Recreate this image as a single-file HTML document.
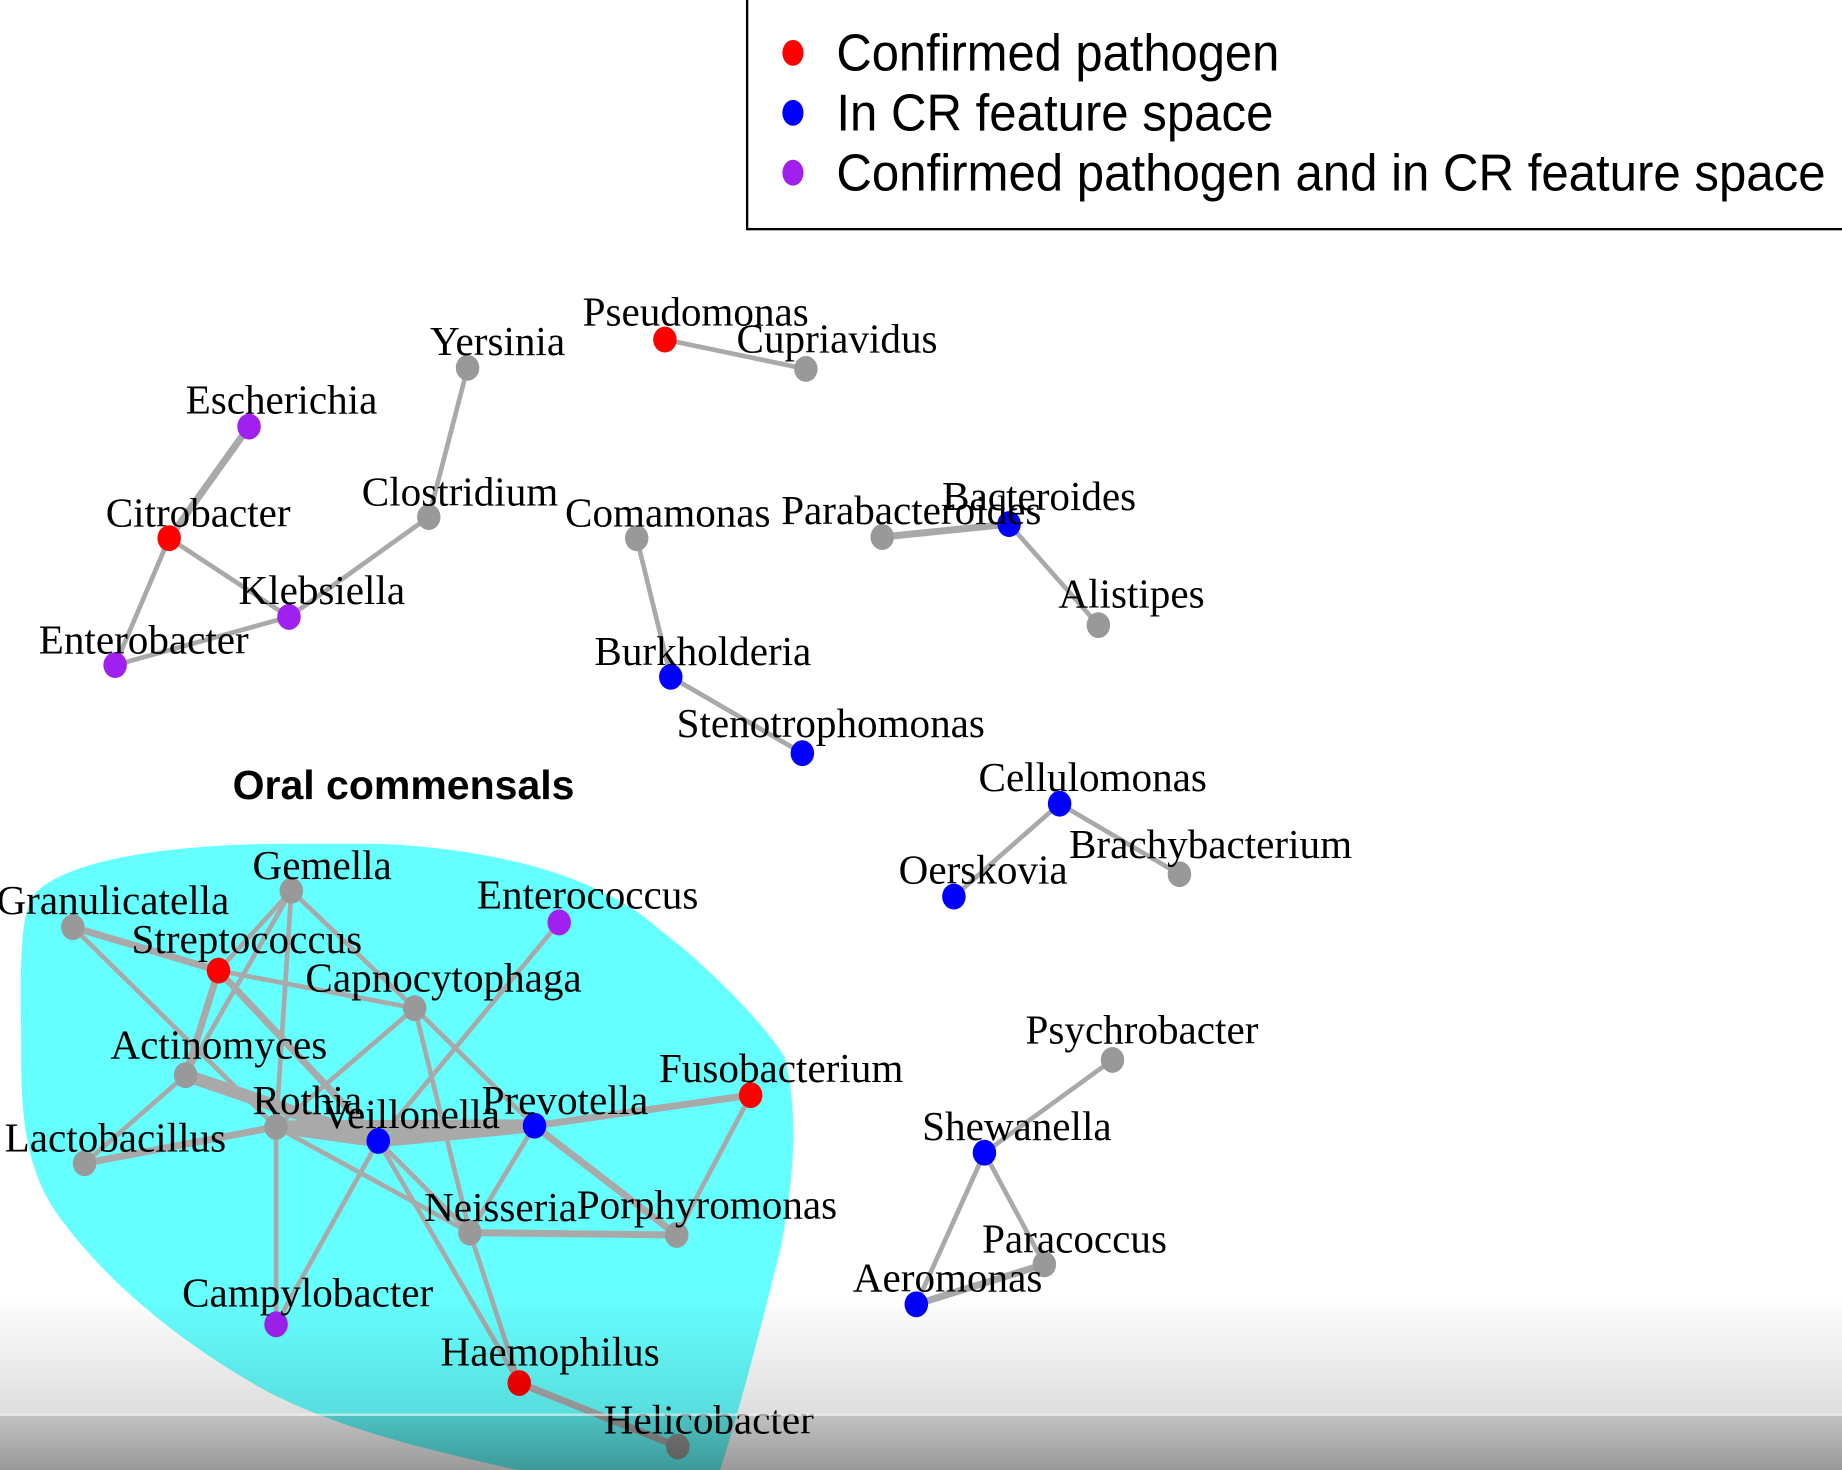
<!DOCTYPE html>
<html><head><meta charset="utf-8"><style>
html,body{margin:0;padding:0;background:#fff;}
svg{display:block;}
.l{font-family:"Liberation Serif",serif;font-size:35px;fill:#000;}
.g{font-family:"Liberation Sans",sans-serif;font-size:44px;fill:#000;}
</style></head><body>
<svg width="1842" height="1470" viewBox="0 0 1568 1251" preserveAspectRatio="none" xmlns="http://www.w3.org/2000/svg">
<defs>
<linearGradient id="sh" x1="0" y1="0" x2="0" y2="1">
<stop offset="0" stop-color="#000" stop-opacity="0"/>
<stop offset="0.68" stop-color="#000" stop-opacity="0.13"/>
<stop offset="0.69" stop-color="#000" stop-opacity="0.24"/>
<stop offset="1" stop-color="#000" stop-opacity="0.4"/>
</linearGradient>
</defs>
<rect width="1568" height="1251" fill="#fff"/>
<rect x="636" y="-5" width="940" height="200" fill="#fff" stroke="#000" stroke-width="2"/>
<ellipse cx="675" cy="45" rx="9" ry="11" fill="#f00"/>
<ellipse cx="675" cy="96" rx="9" ry="11" fill="#00f"/>
<ellipse cx="675" cy="147" rx="9" ry="11" fill="#a020f0"/>
<text class="g" x="712" y="60" textLength="377" lengthAdjust="spacingAndGlyphs">Confirmed pathogen</text>
<text class="g" x="712" y="111" textLength="372" lengthAdjust="spacingAndGlyphs">In CR feature space</text>
<text class="g" x="712" y="162" textLength="842" lengthAdjust="spacingAndGlyphs">Confirmed pathogen and in CR feature space</text>
<text x="198" y="680" font-family="Liberation Sans,sans-serif" font-weight="bold" font-size="35" textLength="291" lengthAdjust="spacingAndGlyphs">Oral commensals</text>
<path d="M250,718 C150,718 60,730 30,760 C15,780 18,830 18,900 C18,960 25,1000 50,1035 C90,1090 150,1140 220,1180 C300,1225 420,1245 480,1260 L610,1260 C630,1200 650,1120 665,1060 C676,1000 680,950 668,900 C650,870 600,820 560,790 C510,745 420,722 320,718 Z" fill="#66ffff"/>
<g stroke="#a9a9a9" stroke-linecap="round" fill="none">
<g stroke-width="4">
<line x1="566" y1="289" x2="686" y2="314"/>
<line x1="398" y1="313" x2="365" y2="440"/>
<line x1="365" y1="440" x2="246" y2="525"/>
<line x1="144" y1="458" x2="246" y2="525"/>
<line x1="144" y1="458" x2="98" y2="566"/>
<line x1="98" y1="566" x2="246" y2="525"/>
<line x1="542" y1="458" x2="571" y2="576"/>
<line x1="571" y1="576" x2="683" y2="641"/>
<line x1="859" y1="446" x2="935" y2="532"/>
<line x1="902" y1="684" x2="812" y2="763"/>
<line x1="902" y1="684" x2="1004" y2="744"/>
<line x1="947" y1="902" x2="838" y2="981"/>
<line x1="838" y1="981" x2="780" y2="1110"/>
<line x1="838" y1="981" x2="889" y2="1076"/>
<line x1="62" y1="789" x2="235" y2="959"/>
<line x1="248" y1="758" x2="186" y2="826"/>
<line x1="248" y1="758" x2="235" y2="959"/>
<line x1="248" y1="758" x2="158" y2="915"/>
<line x1="248" y1="758" x2="353" y2="858"/>
<line x1="186" y1="826" x2="353" y2="858"/>
<line x1="353" y1="858" x2="235" y2="959"/>
<line x1="353" y1="858" x2="400" y2="1049"/>
<line x1="353" y1="858" x2="455" y2="958"/>
<line x1="476" y1="785" x2="322" y2="971"/>
<line x1="158" y1="915" x2="72" y2="990"/>
<line x1="235" y1="959" x2="400" y2="1049"/>
<line x1="235" y1="959" x2="235" y2="1127"/>
<line x1="322" y1="971" x2="235" y2="1127"/>
<line x1="322" y1="971" x2="400" y2="1049"/>
<line x1="322" y1="971" x2="442" y2="1177"/>
<line x1="455" y1="958" x2="400" y2="1049"/>
<line x1="400" y1="1049" x2="442" y2="1177"/>
<line x1="639" y1="932" x2="576" y2="1051"/>
</g>
<g stroke-width="6">
<line x1="212" y1="363" x2="144" y2="458"/>
<line x1="751" y1="457" x2="859" y2="446"/>
<line x1="780" y1="1110" x2="889" y2="1076"/>
<line x1="62" y1="789" x2="186" y2="826"/>
<line x1="186" y1="826" x2="158" y2="915"/>
<line x1="186" y1="826" x2="322" y2="971"/>
<line x1="72" y1="990" x2="235" y2="959"/>
<line x1="455" y1="958" x2="639" y2="932"/>
<line x1="455" y1="958" x2="576" y2="1051"/>
<line x1="400" y1="1049" x2="576" y2="1051"/>
<line x1="442" y1="1177" x2="577" y2="1231"/>
</g>
<g stroke-width="11">
<line x1="158" y1="915" x2="322" y2="971"/>
<line x1="235" y1="959" x2="322" y2="971"/>
<line x1="235" y1="959" x2="455" y2="958"/>
<line x1="322" y1="971" x2="455" y2="958"/>
</g>
</g>
<g>
<g fill="#999">
<ellipse cx="686" cy="314" rx="10" ry="11"/><ellipse cx="398" cy="313" rx="10" ry="11"/>
<ellipse cx="365" cy="440" rx="10" ry="11"/><ellipse cx="542" cy="458" rx="10" ry="11"/>
<ellipse cx="751" cy="457" rx="10" ry="11"/><ellipse cx="935" cy="532" rx="10" ry="11"/>
<ellipse cx="1004" cy="744" rx="10" ry="11"/><ellipse cx="947" cy="902" rx="10" ry="11"/>
<ellipse cx="889" cy="1076" rx="10" ry="11"/><ellipse cx="248" cy="758" rx="10" ry="11"/>
<ellipse cx="62" cy="789" rx="10" ry="11"/><ellipse cx="353" cy="858" rx="10" ry="11"/>
<ellipse cx="158" cy="915" rx="10" ry="11"/><ellipse cx="235" cy="959" rx="10" ry="11"/>
<ellipse cx="72" cy="990" rx="10" ry="11"/><ellipse cx="400" cy="1049" rx="10" ry="11"/>
<ellipse cx="576" cy="1051" rx="10" ry="11"/><ellipse cx="577" cy="1231" rx="10" ry="11"/>
</g>
<g fill="#f00">
<ellipse cx="566" cy="289" rx="10" ry="11"/><ellipse cx="144" cy="458" rx="10" ry="11"/>
<ellipse cx="186" cy="826" rx="10" ry="11"/><ellipse cx="639" cy="932" rx="10" ry="11"/>
<ellipse cx="442" cy="1177" rx="10" ry="11"/>
</g>
<g fill="#00f">
<ellipse cx="859" cy="446" rx="10" ry="11"/><ellipse cx="571" cy="576" rx="10" ry="11"/>
<ellipse cx="683" cy="641" rx="10" ry="11"/><ellipse cx="902" cy="684" rx="10" ry="11"/>
<ellipse cx="812" cy="763" rx="10" ry="11"/><ellipse cx="838" cy="981" rx="10" ry="11"/>
<ellipse cx="780" cy="1110" rx="10" ry="11"/><ellipse cx="322" cy="971" rx="10" ry="11"/>
<ellipse cx="455" cy="958" rx="10" ry="11"/>
</g>
<g fill="#a020f0">
<ellipse cx="212" cy="363" rx="10" ry="11"/><ellipse cx="246" cy="525" rx="10" ry="11"/>
<ellipse cx="98" cy="566" rx="10" ry="11"/><ellipse cx="476" cy="785" rx="10" ry="11"/>
<ellipse cx="235" cy="1127" rx="10" ry="11"/>
</g>
</g>
<g>
<text class="l" x="496" y="277">Pseudomonas</text>
<text class="l" x="627" y="300">Cupriavidus</text>
<text class="l" x="366" y="302">Yersinia</text>
<text class="l" x="158" y="352">Escherichia</text>
<text class="l" x="308" y="430">Clostridium</text>
<text class="l" x="90" y="448">Citrobacter</text>
<text class="l" x="203" y="514">Klebsiella</text>
<text class="l" x="33" y="556">Enterobacter</text>
<text class="l" x="481" y="448">Comamonas</text>
<text class="l" x="665" y="446">Parabacteroides</text>
<text class="l" x="802" y="434">Bacteroides</text>
<text class="l" x="901" y="517">Alistipes</text>
<text class="l" x="506" y="566">Burkholderia</text>
<text class="l" x="576" y="627">Stenotrophomonas</text>
<text class="l" x="833" y="673">Cellulomonas</text>
<text class="l" x="910" y="730">Brachybacterium</text>
<text class="l" x="765" y="752">Oerskovia</text>
<text class="l" x="873" y="888">Psychrobacter</text>
<text class="l" x="785" y="970">Shewanella</text>
<text class="l" x="836" y="1066">Paracoccus</text>
<text class="l" x="726" y="1099">Aeromonas</text>
<text class="l" x="215" y="748">Gemella</text>
<text class="l" x="-3" y="778">Granulicatella</text>
<text class="l" x="112" y="811">Streptococcus</text>
<text class="l" x="406" y="773">Enterococcus</text>
<text class="l" x="260" y="844">Capnocytophaga</text>
<text class="l" x="94" y="901">Actinomyces</text>
<text class="l" x="215" y="948">Rothia</text>
<text class="l" x="274" y="960">Veillonella</text>
<text class="l" x="410" y="948">Prevotella</text>
<text class="l" x="561" y="921">Fusobacterium</text>
<text class="l" x="4" y="980">Lactobacillus</text>
<text class="l" x="361" y="1039">Neisseria</text>
<text class="l" x="491" y="1037">Porphyromonas</text>
<text class="l" x="155" y="1112">Campylobacter</text>
<text class="l" x="375" y="1162">Haemophilus</text>
<text class="l" x="514" y="1220">Helicobacter</text>
</g>
<rect x="0" y="1100" width="1568" height="151" fill="url(#sh)"/>
<rect x="0" y="1203" width="1568" height="2" fill="#fff" opacity="0.6"/>
</svg>
</body></html>
